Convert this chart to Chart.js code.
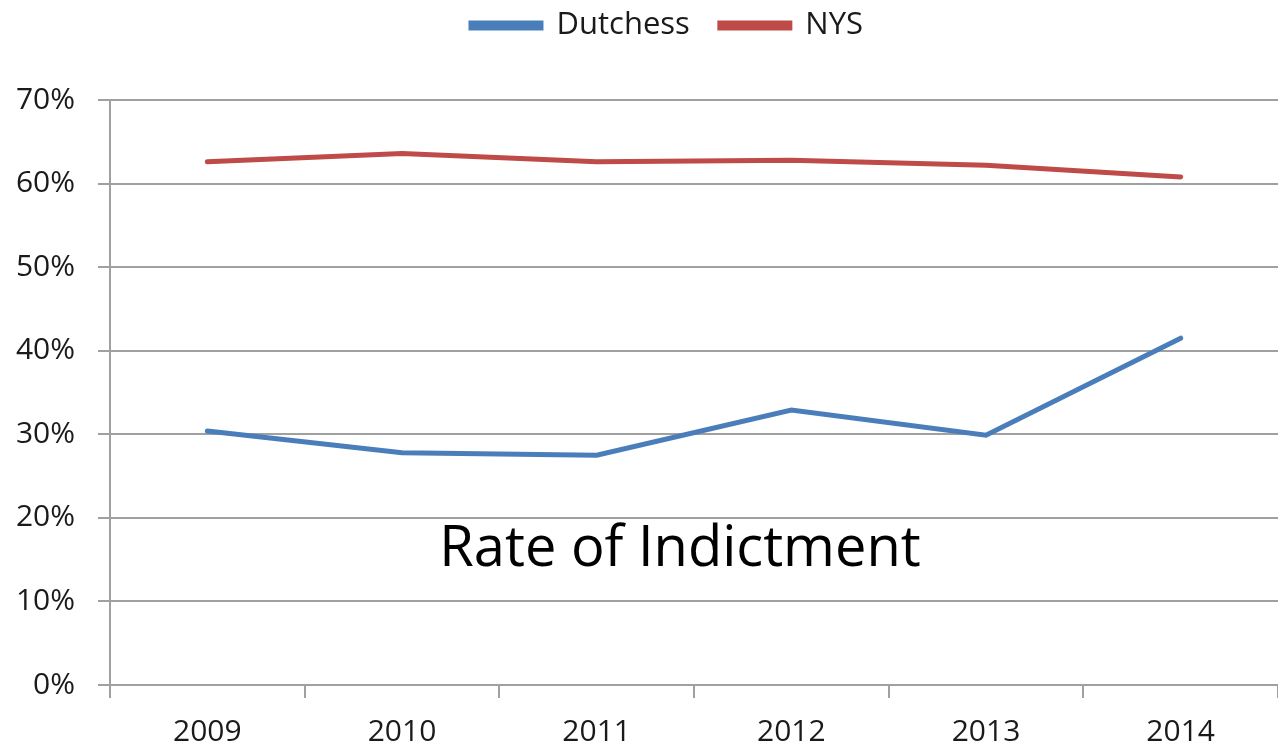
<!DOCTYPE html>
<html>
<head>
<meta charset="utf-8">
<script src="https://cdn.jsdelivr.net/npm/chart.js"></script>
<style>
  html, body { margin: 0; padding: 0; background: #fff; }
  #wrap { width: 1278px; height: 750px; position: relative; }
</style>
</head>
<body>
<div id="wrap"><canvas id="myChart"></canvas></div>
<script>
// data
const years = ["2009", "2010", "2011", "2012", "2013", "2014"];
const dutchess = [30.4, 27.8, 27.5, 32.9, 29.9, 41.5];
const nys = [62.6, 63.6, 62.6, 62.8, 62.2, 60.8];
const yTicks = [0, 10, 20, 30, 40, 50, 60, 70];
const chartLabel = "Rate of Indictment";

const gridGray = "#a0a0a0";
const textColor = "#1a1a1a";
const tickFont = { family: "'Open Sans', 'Liberation Sans', sans-serif", size: 30 };

// big caption drawn inside the plot area
const captionPlugin = {
  id: "caption",
  afterDatasetsDraw(chart) {
    const ctx = chart.ctx;
    const area = chart.chartArea;
    const y = chart.scales.y.getPixelForValue(16.1);
    ctx.save();
    ctx.font = "56px 'Open Sans', sans-serif";
    ctx.fillStyle = "#000";
    ctx.textAlign = "center";
    ctx.textBaseline = "middle";
    ctx.fillText(chartLabel, area.left + area.width * 0.488, y);
    ctx.restore();
  }
};

// leave room under the legend so the plot starts lower,
// and nudge the legend a bit right like the original
const legendSpace = {
  id: "legendSpace",
  beforeInit(chart) {
    const originalFit = chart.legend.fit;
    chart.legend.fit = function () {
      originalFit.bind(chart.legend)();
      this.height = 120;
    };
  },
  afterLayout(chart) {
    chart.legend.left += 28;
    chart.legend.right += 28;
  }
};

new Chart("myChart", {
  type: "line",
  data: {
    labels: years,
    datasets: [{
      label: "Dutchess",
      data: dutchess,
      borderColor: "#4A7EBB",
      backgroundColor: "#4A7EBB",
      borderWidth: 5,
      borderCapStyle: "round",
      pointRadius: 0,
      fill: false
    }, {
      label: "NYS",
      data: nys,
      borderColor: "#BE4B48",
      backgroundColor: "#BE4B48",
      borderWidth: 5,
      borderCapStyle: "round",
      pointRadius: 0,
      fill: false
    }]
  },
  options: {
    responsive: true,
    maintainAspectRatio: false,
    animation: false,
    layout: { padding: { top: -20, right: 0, left: 0, bottom: 0 } },
    plugins: {
      legend: {
        display: true,
        position: "top",
        labels: {
          boxWidth: 70,
          boxHeight: 5,
          padding: 30,
          color: textColor,
          font: { family: tickFont.family, size: 31 }
        }
      },
      tooltip: { enabled: false }
    },
    scales: {
      x: {
        offset: true,
        afterFit(scale) { scale.height = 65; },
        grid: {
          offset: true,
          drawOnChartArea: false,
          drawTicks: true,
          tickLength: 13,
          color: gridGray,
          lineWidth: 2
        },
        border: { color: gridGray, width: 2 },
        ticks: { color: textColor, font: tickFont, padding: 16, maxRotation: 0 }
      },
      y: {
        min: 0,
        max: 70,
        afterFit(scale) { scale.width = 110; },
        afterBuildTicks(scale) {
          scale.ticks = yTicks.map(v => ({ value: v }));
        },
        grid: {
          color: gridGray,
          lineWidth: 2,
          drawTicks: true,
          tickLength: 12
        },
        border: { color: gridGray, width: 2 },
        ticks: {
          color: textColor,
          font: tickFont,
          padding: 23,
          callback: v => v + "%"
        }
      }
    }
  },
  plugins: [captionPlugin, legendSpace]
});
</script>
</body>
</html>
